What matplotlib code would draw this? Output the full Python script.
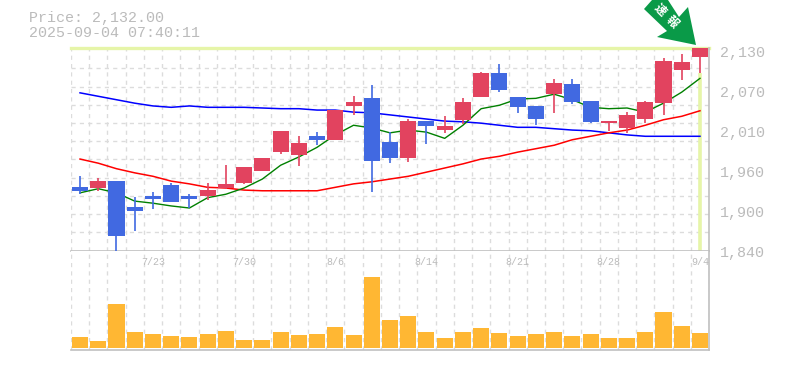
import numpy as np
import matplotlib
matplotlib.use("Agg")
import matplotlib.pyplot as plt
from matplotlib.patches import Polygon

# ─── Data ───────────────────────────────────────────────────────────────────
opens = [1930, 1929, 1939, 1901, 1917, 1933, 1917, 1917, 1929, 1936, 1954, 1981,
         1977, 2004, 1999, 2048, 2060, 1996, 1972, 2026, 2013, 2028, 2061, 2096,
         2061, 2048, 2065, 2080, 2055, 2023, 2016, 2029, 2052, 2100, 2119]
highs = [1946, 1944, 1939, 1916, 1923, 1936, 1920, 1936, 1962, 1959, 1972, 2012,
         2004, 2010, 2042, 2062, 2078, 2010, 2029, 2026, 2033, 2060, 2097, 2109,
         2061, 2048, 2087, 2087, 2055, 2026, 2039, 2055, 2117, 2123, 2132]
lows = [1920, 1925, 1838, 1867, 1899, 1909, 1900, 1912, 1928, 1935, 1954, 1978,
        1961, 1991, 1999, 2035, 1923, 1965, 1967, 1993, 2009, 2022, 2061, 2068,
        2038, 2020, 2038, 2051, 2023, 2012, 2009, 2023, 2035, 2086, 2096]
closes = [1925, 1939, 1859, 1896, 1913, 1909, 1913, 1926, 1935, 1959, 1972, 2012,
          1994, 1999, 2042, 2054, 1968, 1972, 2026, 2019, 2019, 2054, 2096, 2071,
          2046, 2029, 2081, 2054, 2025, 2026, 2035, 2054, 2113, 2112, 2132]
ma_short = [1922, 1928, 1922, 1910, 1907, 1903, 1900, 1915, 1920, 1929, 1942, 1962,
            1974, 1988, 2006, 2020, 2016, 2009, 2013, 2010, 2001, 2020, 2044, 2049,
            2058, 2059, 2065, 2057, 2046, 2044, 2045, 2039, 2052, 2068, 2088]
ma_mid = [1971, 1965, 1957, 1951, 1946, 1939, 1935, 1930, 1929, 1926, 1925, 1925,
          1925, 1925, 1930, 1935, 1938, 1942, 1946, 1952, 1958, 1964, 1971, 1975,
          1981, 1986, 1991, 1999, 2004, 2009, 2013, 2020, 2028, 2033, 2041]
ma_long = [2067, 2062, 2057, 2052, 2048, 2046, 2048, 2046, 2046, 2046, 2045, 2044,
           2044, 2042, 2042, 2039, 2038, 2035, 2032, 2029, 2026, 2025, 2023, 2020,
           2017, 2017, 2015, 2013, 2012, 2009, 2006, 2004, 2004, 2004, 2004]
volumes = [11, 7, 44, 16, 14, 12, 11, 14, 17, 8, 8, 16, 13, 14, 21, 13, 71, 28,
           32, 16, 10, 16, 20, 15, 12, 14, 16, 12, 14, 10, 10, 16, 36, 22, 15]
date_labels = ["7/23", "7/30", "8/6", "8/14", "8/21", "8/28", "9/4"]
price_labels = ["2,130", "2,070", "2,010", "1,960", "1,900", "1,840"]

# ─── Style ──────────────────────────────────────────────────────────────────
W, H = 785, 370
UP = "#E2435F"
DOWN = "#4169E1"
GRID = "#dcdcdc"
FRAME = "#c0c0c0"
TEXT = "#bbbbbb"
HILITE = "#E6F5A8"
plt.rcParams["font.family"] = ["Liberation Mono", "Noto Sans CJK JP", "DejaVu Sans"]

x = np.arange(len(closes))
xmin, xmax = -0.5, len(closes) - 0.5
ymin, ymax = 1838.4, 2132
GRID_STEP = 26.4

fig = plt.figure(figsize=(W / 100, H / 100), dpi=100, facecolor="white")
ax = fig.add_axes([70.9 / W, 1 - 250.5 / H, 638.2 / W, 202.5 / H])
vax = fig.add_axes([70.9 / W, 1 - 350 / H, 638.2 / W, 99.5 / H])

for a in (ax, vax):
    a.set_xlim(xmin, xmax)
    a.set_xticks(np.arange(xmin, xmax + 1))
    a.tick_params(length=0, labelbottom=False, labelleft=False)
    a.grid(axis="x", color=GRID, lw=1, ls=(0, (3, 3)), zorder=0)
    a.set_axisbelow(True)
    a.spines["left"].set_visible(False)
    a.spines["right"].set_color(FRAME)
    a.spines["bottom"].set_color(FRAME)
    a.spines["right"].set_linewidth(1.2)
    a.spines["bottom"].set_linewidth(1.2)
    a.spines["top"].set_visible(False)

# ─── Price panel ────────────────────────────────────────────────────────────
ax.set_ylim(ymin, ymax)
ax.set_yticks(ymin + GRID_STEP * np.arange(1, 11))
ax.grid(axis="y", color=GRID, lw=1, ls=(0, (3, 3)), zorder=0)

# current price markers
ax.axhline(closes[-1], color=HILITE, lw=2.4, zorder=1, clip_on=False)
ax.vlines(x[-1], ymin, lows[-1], color=HILITE, lw=2.6, zorder=1)

ax.plot(x, ma_long, color="#0000FF", lw=1.1, zorder=2)
ax.plot(x, ma_mid, color="#FF0000", lw=1.1, zorder=2)
ax.plot(x, ma_short, color="#008000", lw=1.0, zorder=2)

colors = [UP if c >= o else DOWN for o, c in zip(opens, closes)]
ax.vlines(x, lows, highs, color=colors, lw=1.2, zorder=3)
ax.bar(x, np.array(closes) - np.array(opens), bottom=opens, width=0.88,
       color=colors, zorder=4, clip_on=False)

# ─── Volume panel ───────────────────────────────────────────────────────────
vax.set_ylim(-2, 97.5)
vax.set_yticks([])
vax.bar(x, volumes, width=0.88, color="#FFB733", zorder=3)
for i, label in zip(x[4::5], date_labels):
    vax.text(i, 86, label, ha="center", va="center", fontsize=7.2, color=TEXT)

# ─── Texts ──────────────────────────────────────────────────────────────────
fig.text(29 / W, 1 - 18 / H, "Price: 2,132.00", fontsize=10.8, color=TEXT,
         ha="left", va="center")
fig.text(29 / W, 1 - 33 / H, "2025-09-04 07:40:11", fontsize=10.8, color=TEXT,
         ha="left", va="center")
for k, label in enumerate(price_labels):
    fig.text(720 / W, 1 - (53 + 40 * k) / H, label, fontsize=10.8, color=TEXT,
             ha="left", va="center")

# ─── Arrow badge ────────────────────────────────────────────────────────────
arrow = [(644, 9), (652, 0), (668, 0), (679, 17), (688, 7), (696, 45), (657, 37), (667, 31)]
fig.add_artist(Polygon([(px / W, 1 - py / H) for px, py in arrow], closed=True,
                       transform=fig.transFigure, facecolor="#0A9A48", edgecolor="none"))
fig.text(660 / W, 1 - 10 / H, "速", fontsize=8.5, color="white", weight="bold",
         rotation=-45, ha="center", va="center")
fig.text(672 / W, 1 - 22 / H, "報", fontsize=8.5, color="white", weight="bold",
         rotation=-45, ha="center", va="center")

fig.savefig("out.png", dpi=100)
